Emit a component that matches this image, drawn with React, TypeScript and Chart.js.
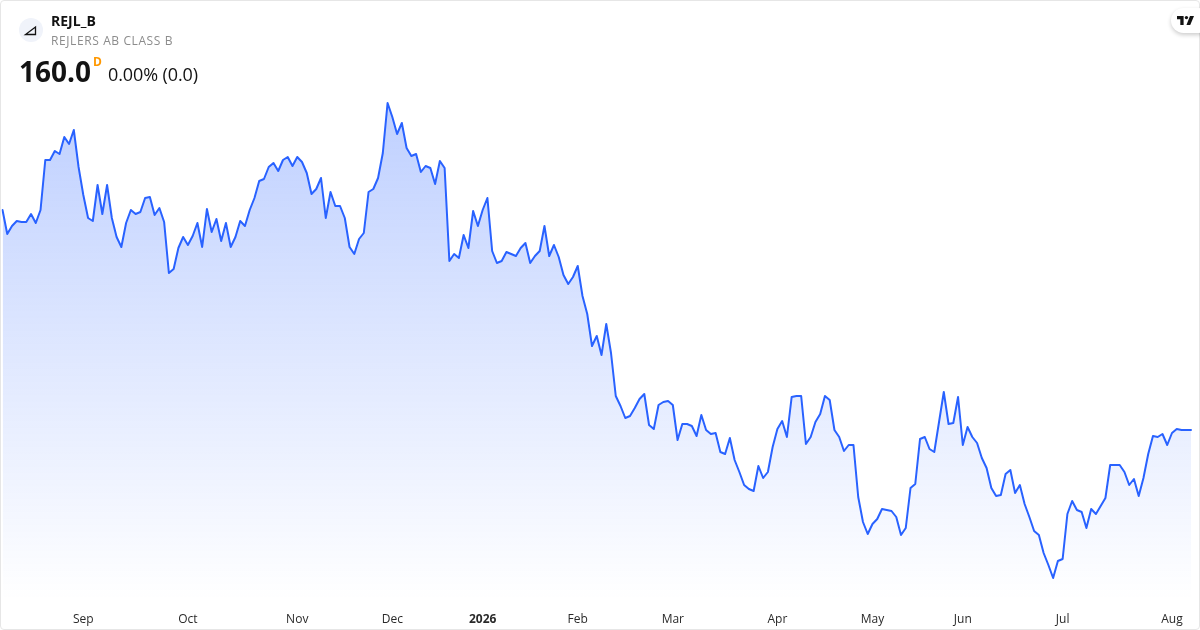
import { useEffect, useRef } from 'react';
import { Chart, registerables } from 'chart.js';

Chart.register(...registerables);

const prices = [
    204.0, 199.2, 200.8, 201.8, 201.6, 201.6, 203.2, 201.4, 204.0, 214.0, 214.0, 215.8, 215.2, 218.6, 217.2, 220.0,
    212.6, 207.0, 202.4, 201.8, 209.0, 203.2, 209.0, 202.4, 198.6, 196.6, 201.4, 204.0, 203.2, 203.6, 206.4, 206.6,
    203.0, 204.4, 201.6, 191.4, 192.2, 196.4, 198.6, 197.0, 198.8, 201.4, 196.6, 204.2, 199.6, 202.2, 197.8, 201.4,
    196.6, 198.6, 201.8, 200.8, 204.0, 206.4, 209.8, 210.2, 212.6, 213.4, 211.8, 214.0, 214.6, 212.8, 214.6, 213.6,
    211.4, 207.2, 208.2, 210.4, 202.4, 207.6, 204.8, 204.8, 202.4, 196.6, 195.2, 198.2, 199.4, 207.6, 208.2, 210.4,
    215.4, 225.4, 222.6, 219.2, 221.4, 216.4, 214.8, 215.2, 211.6, 212.8, 212.4, 209.2, 213.8, 212.4, 193.8, 195.2,
    194.4, 199.0, 196.4, 203.8, 200.8, 204.0, 206.4, 195.8, 193.4, 193.8, 195.6, 195.2, 194.8, 196.4, 197.4, 193.4,
    194.8, 195.8, 200.8, 194.8, 197.0, 194.6, 191.0, 189.2, 190.6, 192.8, 186.8, 183.2, 176.8, 178.8, 175.0, 181.2,
    175.4, 166.8, 164.8, 162.4, 162.8, 164.4, 166.2, 167.2, 161.0, 160.2, 165.0, 165.6, 165.8, 165.0, 158.0, 161.2,
    161.2, 160.8, 158.8, 163.0, 160.0, 159.2, 159.4, 155.6, 155.2, 158.4, 154.0, 151.6, 149.0, 148.2, 147.8, 152.8,
    150.4, 151.6, 156.6, 160.2, 161.8, 158.6, 166.6, 166.8, 166.8, 157.2, 158.6, 161.6, 163.2, 166.8, 166.0, 160.0,
    158.6, 155.8, 157.0, 157.0, 146.6, 141.6, 139.2, 141.2, 142.2, 144.2, 144.0, 143.8, 142.6, 139.0, 140.4, 148.4,
    149.2, 158.2, 158.6, 156.2, 155.6, 161.6, 167.6, 161.2, 161.4, 166.6, 157.0, 160.6, 158.6, 157.4, 154.4, 152.4,
    148.4, 146.8, 147.0, 151.2, 152.0, 147.4, 149.0, 145.2, 142.6, 139.8, 139.0, 135.4, 133.0, 130.4, 133.8, 134.2,
    143.2, 145.8, 144.0, 143.6, 140.4, 144.2, 143.2, 144.8, 146.4, 153.0, 153.0, 153.0, 151.6, 149.0, 150.2, 146.8,
    150.4, 155.2, 158.8, 158.6, 159.2, 157.0, 159.4, 160.2, 160.0, 160.0, 160.0,
];

const monthLabels = ['Sep', 'Oct', 'Nov', 'Dec', '2026', 'Feb', 'Mar', 'Apr', 'May', 'Jun', 'Jul', 'Aug'];
const monthIndexes = [17, 39, 62, 82, 101, 121, 141, 163, 183, 202, 223, 246];

const FONT = '"Open Sans", sans-serif';

const App = () => {
    const chartRef = useRef<HTMLCanvasElement | null>(null);

    useEffect(() => {
        document.body.style.margin = '0';
        if (!chartRef.current) return;

        const chart = new Chart(chartRef.current, {
            type: 'line',
            data: {
                labels: prices.map((_, i) => i),
                datasets: [
                    {
                        data: prices,
                        borderColor: '#2962ff',
                        borderWidth: 2,
                        borderJoinStyle: 'round',
                        borderCapStyle: 'round',
                        pointRadius: 0,
                        tension: 0,
                        fill: 'start',
                        backgroundColor: (context: any) => {
                            const g = context.chart.ctx.createLinearGradient(0, 100, 0, 600);
                            g.addColorStop(0, 'rgba(41, 98, 255, 0.3)');
                            g.addColorStop(1, 'rgba(41, 98, 255, 0)');
                            return g;
                        },
                    },
                ],
            },
            options: {
                animation: false,
                responsive: false,
                layout: { padding: { left: 2.5, right: 9, top: 0, bottom: 0 } },
                plugins: { legend: { display: false }, tooltip: { enabled: false } },
                scales: {
                    x: {
                        type: 'category',
                        offset: false,
                        border: { display: false },
                        grid: { display: false },
                        afterFit: (scale: any) => {
                            scale.height = 30;
                        },
                        ticks: {
                            autoSkip: false,
                            maxRotation: 0,
                            padding: 4,
                            color: '#2a2a2a',
                            font: (context: any) => ({
                                family: FONT,
                                size: 12,
                                weight: context.tick?.label === '2026' ? 'bold' : 'normal',
                            }),
                            callback: (_value: any, index: number) => {
                                const pos = monthIndexes.indexOf(index);
                                return pos >= 0 ? monthLabels[pos] : null;
                            },
                        },
                    },
                    y: { display: false, min: 126, max: 246 },
                },
            },
        });

        return () => {
            chart.destroy();
        };
    }, []);

    return (
        <div style={{ position: 'absolute', left: 0, top: 0, width: 1200, height: 630, background: '#fff', overflow: 'hidden', fontFamily: FONT, color: '#131313' }}>
            <canvas ref={chartRef} width={1200} height={630} style={{ position: 'absolute', left: 0, top: 0, width: 1200, height: 630 }}></canvas>
            <div style={{ position: 'absolute', inset: 0, boxSizing: 'border-box', border: '1px solid #e6e6e6', borderRadius: 4 }}></div>

            <div style={{ position: 'absolute', left: 19, top: 18, width: 24, height: 24, borderRadius: 12, background: '#f0f3fa' }}>
                <svg width="24" height="24" viewBox="0 0 24 24" style={{ display: 'block' }}>
                    <path d="M6.5 16.5 L16.5 16.5 L16.5 9 Z" fill="none" stroke="#131313" strokeWidth="1.3" />
                </svg>
            </div>
            <div style={{ position: 'absolute', left: 51, top: 11, fontSize: 14, lineHeight: '20px', fontWeight: 700 }}>REJL_B</div>
            <div style={{ position: 'absolute', left: 51, top: 32, fontSize: 12, lineHeight: '17px', letterSpacing: 0.6, color: '#8c8c8c' }}>REJLERS AB CLASS B</div>
            <div style={{ position: 'absolute', left: 19, top: 51, fontSize: 28, lineHeight: '40px', fontWeight: 700 }}>160.0</div>
            <div style={{ position: 'absolute', left: 93, top: 54, fontSize: 12, lineHeight: '16px', fontWeight: 700, color: '#ff9800' }}>D</div>
            <div style={{ position: 'absolute', left: 108, top: 62, fontSize: 18, lineHeight: '25px', letterSpacing: -0.1 }}>0.00% (0.0)</div>

            <div style={{ position: 'absolute', left: 1171, top: 8, width: 40, height: 25, borderRadius: 13, background: '#fff', boxShadow: '0 2px 4px rgba(0,0,0,0.2)' }}>
                <svg width="17" height="9" viewBox="0 0 36 20" preserveAspectRatio="none" style={{ position: 'absolute', left: 6, top: 8 }}>
                    <path d="M14 0H0v7h7v13h7V0Zm14 20h-8l7.5-20H36l-8 20Z" fill="#131313" />
                    <circle cx="20" cy="3.5" r="3.5" fill="#131313" />
                </svg>
            </div>
        </div>
    );
};

export default App;
